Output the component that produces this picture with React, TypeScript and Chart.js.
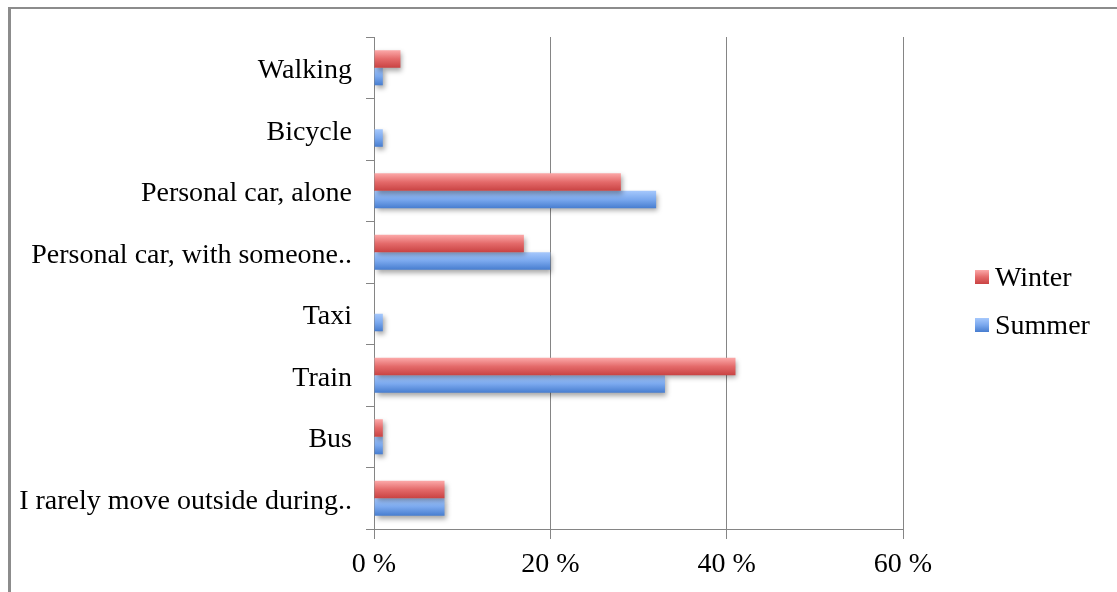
import React, { useEffect, useRef } from "react";
import { Chart, registerables } from "chart.js";

Chart.register(...registerables);

const categories = [
  "Walking",
  "Bicycle",
  "Personal car, alone",
  "Personal car, with someone..",
  "Taxi",
  "Train",
  "Bus",
  "I rarely move outside during..",
];
const winterValues = [3, 0, 28, 17, 0, 41, 1, 8];
const summerValues = [1, 1, 32, 20, 1, 33, 1, 8];
const seriesNames = ["Winter", "Summer"];
const xTicks = [0, 20, 40, 60];

const FONT = "'Liberation Serif', 'Times New Roman', serif";
const GRID = "#858585";
const gradStops: string[][] = [
  ["#fca9a9", "#e46a6a", "#c94343"],
  ["#a6c8fc", "#7aa8ee", "#477dcf"],
];

const barStyle = {
  id: "barStyle",
  beforeDatasetsDraw(chart: any) {
    const ctx = chart.ctx;
    chart.data.datasets.forEach((_ds: any, i: number) => {
      const meta = chart.getDatasetMeta(i);
      const stops = gradStops[i];
      meta.data.forEach((el: any) => {
        const top = el.y - el.height / 2;
        const bot = el.y + el.height / 2;
        const g = ctx.createLinearGradient(0, top, 0, bot);
        g.addColorStop(0, stops[0]);
        g.addColorStop(0.5, stops[1]);
        g.addColorStop(1, stops[2]);
        el.options = Object.assign({}, el.options, { backgroundColor: g });
      });
    });
    ctx.save();
    ctx.shadowColor = "rgba(0,0,0,0.35)";
    ctx.shadowBlur = 5;
    ctx.shadowOffsetX = 2;
    ctx.shadowOffsetY = 3;
  },
  afterDatasetsDraw(chart: any) {
    chart.ctx.restore();
  },
};

export default function App() {
  const ref = useRef<HTMLCanvasElement | null>(null);

  useEffect(() => {
    if (!ref.current) return;
    const chart = new Chart(ref.current, {
      type: "bar",
      data: {
        labels: categories,
        datasets: [
          { label: seriesNames[0], data: winterValues, backgroundColor: gradStops[0][1], borderWidth: 0 },
          { label: seriesNames[1], data: summerValues, backgroundColor: gradStops[1][1], borderWidth: 0 },
        ],
      },
      plugins: [barStyle],
      options: {
        indexAxis: "y",
        animation: false,
        responsive: false,
        devicePixelRatio: 1,
        categoryPercentage: 0.57,
        barPercentage: 1,
        layout: { padding: { left: 0, top: 37, right: 214, bottom: 0 } },
        plugins: { legend: { display: false }, tooltip: { enabled: false } },
        scales: {
          x: {
            min: 0,
            max: 60,
            afterBuildTicks: (scale: any) => {
              scale.ticks = xTicks.map((v) => ({ value: v }));
            },
            afterFit: (scale: any) => {
              scale.height = 63;
            },
            ticks: {
              callback: (v: any) => v + " %",
              color: "#000",
              font: { family: FONT, size: 28 },
              padding: 9,
              maxRotation: 0,
            },
            grid: { color: GRID, tickLength: 10, lineWidth: 1 },
            border: { color: GRID },
          },
          y: {
            afterFit: (scale: any) => {
              scale.width = 374;
            },
            ticks: {
              color: "#000",
              font: { family: FONT, size: 28 },
              padding: 14,
              labelOffset: 3,
              autoSkip: false,
            },
            grid: { drawOnChartArea: false, tickLength: 8, color: GRID, offset: true },
            border: { color: GRID },
          },
        },
      },
    });
    return () => chart.destroy();
  }, []);

  const legendItem = (name: string, i: number, top: number) => (
    <div
      key={name}
      style={{
        position: "absolute",
        left: 975,
        top,
        height: 32,
        display: "flex",
        alignItems: "center",
        fontFamily: FONT,
        fontSize: 28,
        color: "#000",
        whiteSpace: "nowrap",
      }}
    >
      <span
        style={{
          display: "inline-block",
          width: 14,
          height: 14,
          marginRight: 6,
          background: `linear-gradient(${gradStops[i][0]}, ${gradStops[i][1]}, ${gradStops[i][2]})`,
        }}
      />
      <span>{name}</span>
    </div>
  );

  return (
    <div style={{ position: "fixed", left: 0, top: 0, width: 1117, height: 592, overflow: "hidden", background: "#fff" }}>
      <div
        style={{
          position: "absolute",
          left: 8,
          top: 7,
          width: 1300,
          height: 800,
          borderTop: "2px solid #8c8c8c",
          borderLeft: "3px solid #8c8c8c",
        }}
      />
      <canvas ref={ref} width={1117} height={592} style={{ position: "absolute", left: 0, top: 0, display: "block" }} />
      {legendItem(seriesNames[0], 0, 261)}
      {legendItem(seriesNames[1], 1, 309)}
    </div>
  );
}
